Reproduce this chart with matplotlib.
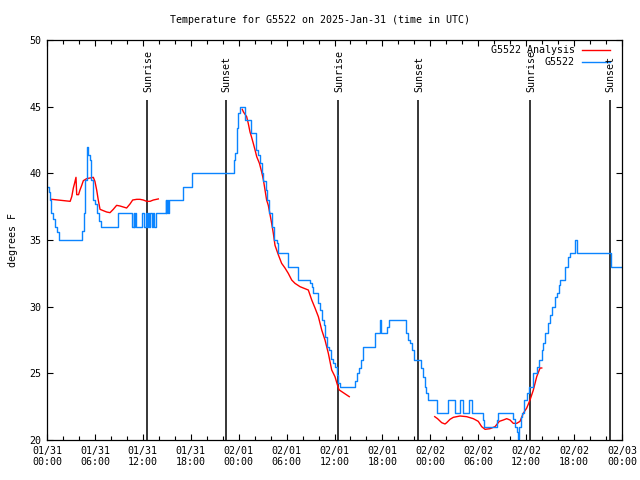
import numpy as np
import matplotlib
matplotlib.use("Agg")
import matplotlib.pyplot as plt
from matplotlib.ticker import MultipleLocator

plt.rcParams['font.family'] = 'DejaVu Sans Mono'
plt.rcParams['font.size'] = 7.2

# hours since 2025-01-31 00:00 UTC
tick_labels = ["01/31\n00:00", "01/31\n06:00", "01/31\n12:00", "01/31\n18:00",
               "02/01\n00:00", "02/01\n06:00", "02/01\n12:00", "02/01\n18:00",
               "02/02\n00:00", "02/02\n06:00", "02/02\n12:00", "02/02\n18:00",
               "02/03\n00:00"]

sun_hours = [12.56, 22.41, 36.48, 46.49, 60.52, 70.5]
sun_names = ["Sunrise", "Sunset", "Sunrise", "Sunset", "Sunrise", "Sunset"]

# station obs (G5522)
obs_hours = [0.0, 0.2, 0.35, 0.55, 0.7, 0.95, 1.2, 1.45, 4.4, 4.6,
             4.8, 5.0, 5.15, 5.35, 5.5, 5.75, 5.95, 6.3, 6.55, 6.75,
             8.95, 10.7, 10.85, 10.95, 11.05, 11.15, 11.85, 12.2, 12.35, 12.5,
             12.65, 12.8, 12.95, 13.1, 13.25, 13.4, 13.6, 14.85, 14.95, 15.05,
             15.15, 15.3, 17.0, 18.1, 23.45, 23.55, 23.75, 23.85, 23.95, 24.15,
             24.8, 25.5, 26.15, 26.4, 26.65, 26.9, 27.1, 27.4, 27.5, 27.8,
             28.15, 28.45, 28.75, 28.95, 30.2, 31.4, 32.95, 33.15, 33.35, 33.95,
             34.2, 34.4, 34.65, 34.8, 35.0, 35.3, 35.55, 35.85, 36.05, 36.3,
             36.5, 36.7, 38.55, 38.8, 39.1, 39.3, 39.6, 41.05, 41.75, 41.85,
             42.6, 42.8, 44.95, 45.2, 45.45, 45.7, 45.95, 46.8, 47.05, 47.3,
             47.5, 47.75, 48.8, 50.25, 51.1, 51.7, 52.15, 52.85, 53.25, 54.6,
             54.75, 56.3, 56.45, 58.4, 58.6, 58.8, 58.95, 59.15, 59.3, 59.45,
             59.75, 60.15, 60.4, 60.9, 61.4, 61.65, 61.95, 62.15, 62.35, 62.75,
             63.0, 63.2, 63.6, 63.8, 64.05, 64.25, 64.85, 65.3, 65.5, 66.15,
             66.35, 70.6, 72.0]
obs_temp = [39, 38.6, 38, 37, 36.6, 36, 35.6, 35, 35.7, 37,
            39.5, 42, 41.4, 41, 39.5, 38, 37.7, 37, 36.4, 36,
            37, 36, 37, 36, 37, 36, 37, 36, 37, 36,
            37, 36, 37, 36, 37, 36, 37, 38, 37, 38,
            37, 38, 39, 40, 41, 41.5, 41.75, 43.4, 44.5, 45,
            44, 43, 41.75, 41.4, 40.75, 40, 39.4, 38.75, 38, 37,
            36, 35, 34.8, 34, 33, 32, 31.75, 31.5, 31, 30.25,
            29.75, 29, 28.6, 27.75, 27, 26.75, 26.1, 25.75, 25.5, 24.9,
            24.25, 24, 24.4, 25, 25.4, 26, 27, 28, 29, 28,
            28.5, 29, 28, 27.5, 27.25, 26.75, 26, 25.4, 24.75, 24,
            23.5, 23, 22, 23, 22, 23, 22, 23, 22, 21.5,
            21, 21.5, 22, 21.6, 21, 20.6, 20.1, 21, 21.75, 22,
            23, 23.5, 24, 25, 25.5, 26, 26.75, 27.25, 28, 28.75,
            29.4, 30, 30.75, 31.05, 31.6, 32, 33, 33.75, 34, 35,
            34, 33, 33]

# analysis (three runs, gaps between)
ana1_hours = [0.6, 2.9, 3.1, 3.3, 3.45, 3.63, 3.72, 3.95, 4.13, 4.35, 4.55,
              4.97, 5.8, 6.0, 6.22, 6.42, 6.64, 7.05, 7.47, 7.89, 8.3, 8.72,
              9.14, 9.97, 10.39, 10.73, 11.23, 11.64, 12.06, 12.48, 12.9, 13.32, 13.94]
ana1_temp = [38.05, 37.9, 38.25, 38.9, 39.25, 39.7, 38.4, 38.4, 38.75, 39.1, 39.45,
             39.6, 39.7, 39.4, 38.75, 38.0, 37.3, 37.2, 37.1, 37.05, 37.3, 37.6,
             37.55, 37.4, 37.7, 38.0, 38.05, 38.05, 38.0, 37.9, 37.9, 38.0, 38.08]

ana2_hours = [24.45, 24.6, 25.0, 25.2, 25.42, 25.6, 25.83, 26.05, 26.26, 26.6,
              26.88, 27.1, 27.3, 27.5, 27.71, 27.9, 28.13, 28.34, 28.55, 28.96,
              29.38, 29.8, 30.21, 30.64, 31.05, 31.68, 32.3, 32.72, 33.15, 33.56,
              33.98, 34.4, 34.81, 35.23, 35.65, 36.06, 36.48, 36.6, 37.1, 37.85]
ana2_temp = [44.8, 44.6, 44.25, 43.75, 43.1, 42.75, 42.25, 41.75, 41.25, 40.75,
             40.1, 39.5, 38.75, 38.0, 37.6, 37.0, 36.25, 35.5, 34.6, 33.9,
             33.25, 32.9, 32.5, 32.0, 31.75, 31.5, 31.35, 31.25, 30.5, 29.9,
             29.25, 28.25, 27.5, 26.5, 25.25, 24.75, 23.9, 23.75, 23.55, 23.25]

ana3_hours = [48.55, 48.9, 49.42, 49.84, 50.05, 50.46, 50.88, 51.72, 52.55, 53.38,
              54.0, 54.43, 54.85, 55.47, 56.1, 56.64, 57.14, 57.56, 57.98, 58.39,
              58.82, 59.23, 59.64, 60.07, 60.48, 60.9, 61.32, 61.74, 61.95]
ana3_temp = [21.75, 21.6, 21.3, 21.2, 21.3, 21.55, 21.7, 21.8, 21.75, 21.6,
             21.4, 21.0, 20.8, 20.85, 21.0, 21.4, 21.5, 21.6, 21.5, 21.25,
             21.25, 21.4, 22.0, 22.4, 23.0, 23.75, 24.75, 25.4, 25.4]

red = '#ff0000'
blue = '#0a84ff'

fig = plt.figure(figsize=(6.4, 4.8), dpi=100)
ax = fig.add_axes([47/640, 40/480, 575/640, 400/480])

ax.vlines(sun_hours, 20, 45.5, color='black', lw=1.1)
for h, name in zip(sun_hours, sun_names):
    ax.text(h + 0.1, 46.1, name, rotation=90, ha='center', va='bottom')

for hh, tt in [(ana1_hours, ana1_temp), (ana2_hours, ana2_temp), (ana3_hours, ana3_temp)]:
    ax.plot(hh, tt, color=red, lw=1)
ax.plot(obs_hours, obs_temp, color=blue, lw=1, drawstyle='steps-post')

# key, gnuplot style (text right-justified, sample after)
ax.text(0.918, 0.975, "G5522 Analysis", transform=ax.transAxes, ha='right', va='center')
ax.plot([0.930, 0.979], [0.975, 0.975], transform=ax.transAxes, color=red, lw=1)
ax.text(0.918, 0.945, "G5522", transform=ax.transAxes, ha='right', va='center')
ax.plot([0.930, 0.979], [0.945, 0.945], transform=ax.transAxes, color=blue, lw=1)

ax.set_xlim(0, 72)
ax.set_ylim(20, 50)
ax.set_xticks(np.arange(0, 73, 6))
ax.set_xticklabels(tick_labels)
ax.xaxis.set_minor_locator(MultipleLocator(2))
ax.set_yticks(np.arange(20, 51, 5))
ax.tick_params(which='both', direction='in', top=True, right=True, width=0.8, color='black')
ax.tick_params(which='major', length=4, pad=4)
ax.tick_params(which='minor', length=3)
for s in ax.spines.values():
    s.set_linewidth(0.9)

ax.set_ylabel("degrees F", labelpad=8)
fig.suptitle("Temperature for G5522 on 2025-Jan-31 (time in UTC)", y=1 - 20/480, va='center', fontsize=7.2)

fig.savefig("out.png", dpi=100)
